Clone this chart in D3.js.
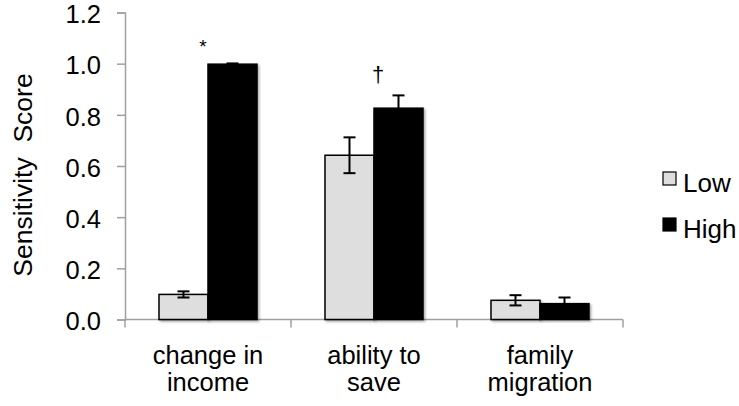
<!DOCTYPE html>
<html>
<head>
<meta charset="utf-8">
<script src="https://cdn.jsdelivr.net/npm/d3@7"></script>
<style>
  body { margin: 0; background: #fff; }
  svg { display: block; font-family: "Liberation Sans", Arial, Helvetica, sans-serif; }
</style>
</head>
<body>
<svg id="chart" width="739" height="406"></svg>
<script>
const categories = [["change in", "income"], ["ability to", "save"], ["family", "migration"]];
const series = ["Low", "High"];
const lowValues = [0.098, 0.642, 0.075];
const highValues = [0.998, 0.826, 0.062];
const lowErrors = [0.012, 0.07, 0.02];
const highErrors = [0.003, 0.05, 0.024];
const yTicks = [0, 0.2, 0.4, 0.6, 0.8, 1.0, 1.2];
const annotations = [["*", 0], ["†", 1]];
const yTitle = "Sensitivity  Score";

const colors = { Low: "#dedede", High: "#000000" };
const svg = d3.select("#chart");
const mLeft = 125, mRight = 623, mTop = 12.5, mBottom = 319.5;

const catKeys = categories.map(c => c.join(" "));
const x0 = d3.scaleBand().domain(catKeys).range([mLeft, mRight]).paddingInner(0).paddingOuter(0);
const x1 = d3.scaleBand().domain(series).range([34, x0.bandwidth() - 34]).padding(0);
const y = d3.scaleLinear().domain([0, 1.2]).range([mBottom, mTop]);

const data = catKeys.map((k, i) => ({
  key: k,
  vals: [
    { s: "Low", v: lowValues[i], e: lowErrors[i] },
    { s: "High", v: highValues[i], e: highErrors[i] }
  ]
}));

// Y axis
const yAxis = svg.append("g").attr("transform", `translate(${mLeft},0)`)
  .call(d3.axisLeft(y).tickValues(yTicks).tickFormat(d3.format(".1f")).tickSize(8).tickPadding(16));
yAxis.select(".domain").attr("stroke", "#a0a0a0").attr("stroke-width", 1.5);
yAxis.selectAll(".tick line").attr("stroke", "#a0a0a0").attr("stroke-width", 1.5);
yAxis.selectAll(".tick text").attr("font-size", 25.5).attr("fill", "#000").attr("dy", "0.4em")
  .style("font-family", "'Liberation Sans', Arial, sans-serif");

// X axis
const xAxisG = svg.append("g").attr("transform", `translate(0,${mBottom})`);
xAxisG.append("line").attr("x1", mLeft).attr("x2", mRight).attr("y1", 0).attr("y2", 0)
  .attr("stroke", "#a0a0a0").attr("stroke-width", 1.5);
const xTickPos = catKeys.map(k => x0(k)).concat([x0(catKeys[catKeys.length - 1]) + x0.bandwidth()]);
xAxisG.selectAll("line.t").data(xTickPos).join("line").attr("class", "t")
  .attr("x1", d => d).attr("x2", d => d).attr("y1", 0).attr("y2", 8)
  .attr("stroke", "#a0a0a0").attr("stroke-width", 1.5);
categories.forEach((lines, i) => {
  const cx = x0(catKeys[i]) + x0.bandwidth() / 2;
  lines.forEach((l, j) => {
    svg.append("text").attr("x", cx).attr("y", 364 + j * 27).attr("text-anchor", "middle")
      .attr("font-size", 25.5).attr("fill", "#000").text(l);
  });
});

// Shadow filter
const defs = svg.append("defs");
const f = defs.append("filter").attr("id", "sh").attr("x", "-10%").attr("y", "-10%").attr("width", "130%").attr("height", "130%");
f.append("feDropShadow").attr("dx", 1.5).attr("dy", 1.5).attr("stdDeviation", 1.2).attr("flood-color", "#000").attr("flood-opacity", 0.35);

// Bars
const groups = svg.selectAll("g.cat").data(data).join("g").attr("class", "cat")
  .attr("transform", d => `translate(${x0(d.key)},0)`);
groups.selectAll("rect").data(d => d.vals).join("rect")
  .attr("x", d => x1(d.s)).attr("width", x1.bandwidth())
  .attr("y", d => y(d.v)).attr("height", d => y(0) - y(d.v))
  .attr("fill", d => colors[d.s]).attr("stroke", "#000").attr("stroke-width", 1.5)
  .attr("filter", "url(#sh)");

// Error bars
groups.each(function(d) {
  const g = d3.select(this);
  d.vals.forEach(v => {
    const cx = x1(v.s) + x1.bandwidth() / 2;
    const lo = v.s === "High" ? v.v : v.v - v.e;
    const hi = v.v + v.e;
    g.append("line").attr("x1", cx).attr("x2", cx).attr("y1", y(lo)).attr("y2", y(hi))
      .attr("stroke", "#000").attr("stroke-width", 2);
    g.append("line").attr("x1", cx - 6).attr("x2", cx + 6).attr("y1", y(hi)).attr("y2", y(hi))
      .attr("stroke", "#000").attr("stroke-width", 2);
    if (v.s === "Low") {
      g.append("line").attr("x1", cx - 6).attr("x2", cx + 6).attr("y1", y(lo)).attr("y2", y(lo))
        .attr("stroke", "#000").attr("stroke-width", 2);
    }
  });
});

// Annotations
annotations.forEach(([sym, i]) => {
  const cx = x0(catKeys[i]) + x0.bandwidth() / 2;
  if (sym === "*") {
    svg.append("text").attr("x", cx - 5).attr("y", 53).attr("text-anchor", "middle")
      .attr("font-size", 19).attr("fill", "#000").text(sym);
  } else {
    svg.append("text").attr("x", cx + 4).attr("y", 82).attr("text-anchor", "middle")
      .attr("font-size", 22).attr("fill", "#000").text(sym);
  }
});

// Y title
svg.append("text").attr("transform", `translate(32,175) rotate(-90)`).attr("text-anchor", "middle")
  .attr("font-size", 26.5).attr("fill", "#000").style("white-space", "pre").text(yTitle);

// Legend
const leg = svg.append("g");
series.forEach((s, i) => {
  const gy = 172 + i * 46;
  leg.append("rect").attr("x", 663).attr("y", gy).attr("width", 13).attr("height", 13)
    .attr("fill", colors[s]).attr("stroke", "#000").attr("stroke-width", 1.2);
  leg.append("text").attr("x", 683).attr("y", gy + 20).attr("font-size", 26).attr("fill", "#000").text(s);
});
</script>
</body>
</html>
